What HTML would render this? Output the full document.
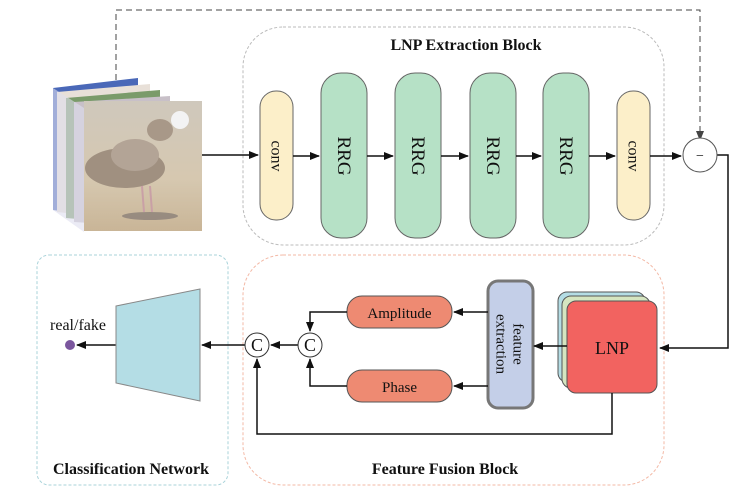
<!DOCTYPE html><html><head><meta charset="utf-8"><style>body{margin:0;background:#fff}svg{display:block}text{font-family:"Liberation Serif",serif;fill:#111}</style></head><body>
<svg width="753" height="500" viewBox="0 0 753 500" xmlns="http://www.w3.org/2000/svg">
<defs><marker id="a" markerWidth="10" markerHeight="8" refX="9" refY="4" orient="auto" markerUnits="userSpaceOnUse"><path d="M0,0L10,4L0,8z" fill="#111"/></marker>
<marker id="g" markerWidth="10" markerHeight="8" refX="9" refY="4" orient="auto" markerUnits="userSpaceOnUse"><path d="M0,0L10,4L0,8z" fill="#444"/></marker>
<linearGradient id="sand" x1="0" y1="0" x2="0" y2="1"><stop offset="0" stop-color="#cfc8bc"/><stop offset="0.6" stop-color="#d6c8b0"/><stop offset="1" stop-color="#c9b597"/></linearGradient></defs>
<rect x="243" y="27" width="421" height="218" rx="40" fill="none" stroke="#bbb" stroke-dasharray="3,2"/>
<rect x="243" y="255" width="421" height="230" rx="40" fill="none" stroke="#f3b9a6" stroke-dasharray="3,2"/>
<rect x="37" y="255" width="191" height="230" rx="12" fill="none" stroke="#a9d3da" stroke-dasharray="3,2"/>
<text x="466" y="50" font-size="16" font-weight="bold" text-anchor="middle">LNP Extraction Block</text>
<text x="445" y="474" font-size="16" font-weight="bold" text-anchor="middle">Feature Fusion Block</text>
<text x="131" y="474" font-size="16" font-weight="bold" text-anchor="middle">Classification Network</text>
<path d="M116,90V10H700V140" fill="none" stroke="#444" stroke-dasharray="6,4" marker-end="url(#g)"/>
<polygon points="53,88 138,78 138,222 53,210" fill="#4a68b8"/>
<polygon points="57,92 150,84 150,222 57,212" fill="#e8e0d8"/>
<polygon points="66,98 160,90 160,226 66,218" fill="#7a9b6a"/>
<polygon points="74,102 170,96 170,228 74,222" fill="#c8c0c8"/>
<polygon points="53,88 84,108 84,232 53,210" fill="#dde" opacity="0.6"/>
<rect x="84" y="101" width="118" height="130" fill="url(#sand)"/>
<ellipse cx="125" cy="168" rx="40" ry="20" fill="#a09080"/>
<ellipse cx="135" cy="155" rx="24" ry="16" fill="#b3a496"/>
<ellipse cx="160" cy="130" rx="13" ry="11" fill="#a89888"/>
<ellipse cx="180" cy="120" rx="9" ry="9" fill="#f3f3f3"/>
<path d="M142,186l2,26M150,186l2,26" stroke="#c9a0a6" stroke-width="2"/>
<ellipse cx="150" cy="216" rx="28" ry="4" fill="#756c6c" opacity="0.6"/>
<path d="M202,155H258" stroke="#111" stroke-width="1.5" marker-end="url(#a)"/>
<rect x="260" y="91" width="33" height="129" rx="16" fill="#fcefc9" stroke="#666"/>
<rect x="617" y="91" width="33" height="129" rx="16" fill="#fcefc9" stroke="#666"/>
<g fill="#b6e1c6" stroke="#666"><rect x="321" y="73" width="46" height="165" rx="20"/><rect x="395" y="73" width="46" height="165" rx="20"/><rect x="470" y="73" width="46" height="165" rx="20"/><rect x="543" y="73" width="46" height="165" rx="20"/></g>
<g font-size="16" text-anchor="middle"><text transform="translate(276.5,156) rotate(90)" dy="5">conv</text><text transform="translate(633.5,156) rotate(90)" dy="5">conv</text></g>
<g font-size="19" text-anchor="middle"><text transform="translate(344,156) rotate(90)" dy="6">RRG</text><text transform="translate(418,156) rotate(90)" dy="6">RRG</text><text transform="translate(493,156) rotate(90)" dy="6">RRG</text><text transform="translate(566,156) rotate(90)" dy="6">RRG</text></g>
<g stroke="#111" stroke-width="1.5" fill="none"><path d="M293,156H319" marker-end="url(#a)"/><path d="M367,156H393" marker-end="url(#a)"/><path d="M441,156H468" marker-end="url(#a)"/><path d="M516,156H541" marker-end="url(#a)"/><path d="M589,156H615" marker-end="url(#a)"/><path d="M650,156H681" marker-end="url(#a)"/>
<path d="M717,155H728V348H660" marker-end="url(#a)"/></g>
<circle cx="700" cy="155" r="17" fill="#fff" stroke="#555"/>
<text x="700" y="160" font-size="14" text-anchor="middle">−</text>
<rect x="558" y="292" width="87" height="90" rx="9" fill="#b4dde5" stroke="#555"/>
<rect x="562" y="296" width="88" height="92" rx="9" fill="#d5e5c0" stroke="#555"/>
<rect x="567" y="301" width="90" height="92" rx="9" fill="#f26360" stroke="#555"/>
<text x="612" y="354" font-size="18" text-anchor="middle">LNP</text>
<rect x="488" y="281" width="45" height="127" rx="10" fill="#c4cfe8" stroke="#777" stroke-width="3"/>
<text transform="translate(510.5,344) rotate(90)" font-size="15" text-anchor="middle"><tspan x="0" dy="-3">feature</tspan><tspan x="0" dy="17">extraction</tspan></text>
<rect x="347" y="296" width="105" height="32" rx="15" fill="#ee8a72" stroke="#555"/>
<rect x="347" y="370" width="105" height="32" rx="15" fill="#ee8a72" stroke="#555"/>
<text x="399.5" y="318" font-size="15" text-anchor="middle">Amplitude</text>
<text x="399.5" y="392" font-size="15" text-anchor="middle">Phase</text>
<g stroke="#111" stroke-width="1.5" fill="none">
<path d="M567,346H534" marker-end="url(#a)"/>
<path d="M488,312H454" marker-end="url(#a)"/><path d="M488,386H454" marker-end="url(#a)"/>
<path d="M347,312H310V331" marker-end="url(#a)"/><path d="M347,386H310V359" marker-end="url(#a)"/>
<path d="M298,345H271" marker-end="url(#a)"/><path d="M245,345H202" marker-end="url(#a)"/>
<path d="M612,393V434H257V359" marker-end="url(#a)"/>
<path d="M116,345H77" marker-end="url(#a)"/></g>
<circle cx="257" cy="345" r="12" fill="#fff" stroke="#333"/><circle cx="310" cy="345" r="12" fill="#fff" stroke="#333"/>
<text x="257" y="351" font-size="18" text-anchor="middle">C</text><text x="310" y="351" font-size="18" text-anchor="middle">C</text>
<polygon points="116,306 200,289 200,401 116,383" fill="#b4dde5" stroke="#888"/>
<circle cx="70" cy="345" r="5" fill="#7b579e"/>
<text x="78" y="330" font-size="16" text-anchor="middle">real/fake</text>
</svg></body></html>
